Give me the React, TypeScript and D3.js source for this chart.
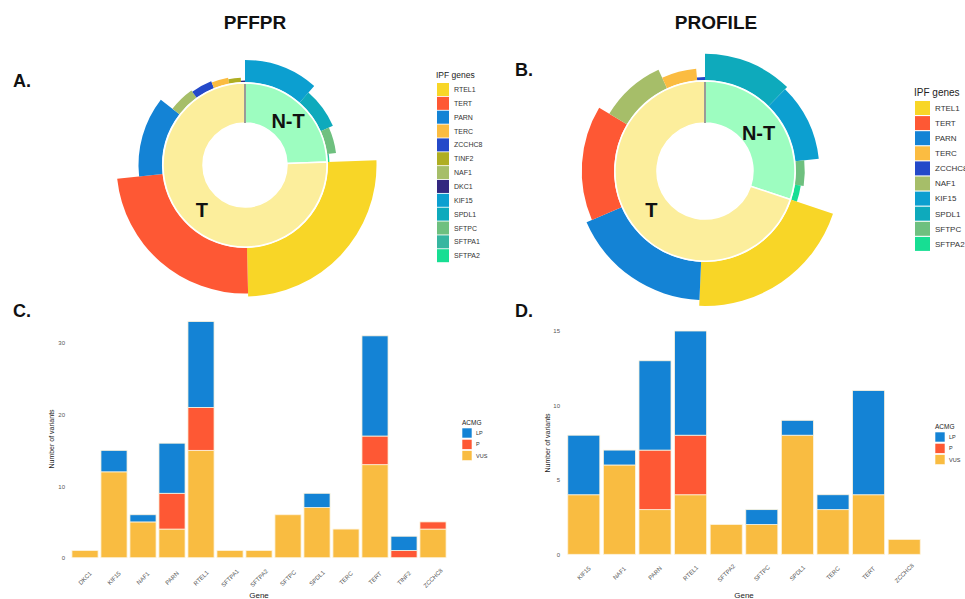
import React, { useRef, useEffect } from 'react';
import { select, scaleBand, scaleLinear, arc, stack, sum, axisLeft, axisBottom } from 'd3';

// gene colour key (shared by both sunbursts)
const geneColors: Record<string, string> = {
    RTEL1: "#F8D627",
    TERT: "#FE5834",
    PARN: "#1483D5",
    TERC: "#FBBC41",
    ZCCHC8: "#2449C9",
    TINF2: "#AFAE22",
    NAF1: "#A6BE69",
    DKC1: "#33287F",
    KIF15: "#0C9FD0",
    SPDL1: "#0EAABC",
    SFTPC: "#6EC07F",
    SFTPA1: "#36B6A0",
    SFTPA2: "#17DE93",
};

const telomereGenes = ["RTEL1", "TERT", "PARN", "TERC", "ZCCHC8", "TINF2", "NAF1", "DKC1"];

// PFFPR cohort (panel A / C)
const pffprGenes = ["DKC1", "KIF15", "NAF1", "PARN", "RTEL1", "SFTPA1", "SFTPA2", "SFTPC", "SPDL1", "TERC", "TERT", "TINF2", "ZCCHC8"];
const pffprVUS = [1, 12, 5, 4, 15, 1, 1, 6, 7, 4, 13, 0, 4];
const pffprP = [0, 0, 0, 5, 6, 0, 0, 0, 0, 0, 4, 1, 1];
const pffprLP = [0, 3, 1, 7, 12, 0, 0, 0, 2, 0, 14, 2, 0];
const pffprLegend = ["RTEL1", "TERT", "PARN", "TERC", "ZCCHC8", "TINF2", "NAF1", "DKC1", "KIF15", "SPDL1", "SFTPC", "SFTPA1", "SFTPA2"];
const pffprTicks = [0, 10, 20, 30];

// PROFILE cohort (panel B / D)
const profileGenes = ["KIF15", "NAF1", "PARN", "RTEL1", "SFTPA2", "SFTPC", "SPDL1", "TERC", "TERT", "ZCCHC8"];
const profileVUS = [4, 6, 3, 4, 2, 2, 8, 3, 4, 1];
const profileP = [0, 0, 4, 4, 0, 0, 0, 0, 0, 0];
const profileLP = [4, 1, 6, 7, 0, 1, 1, 1, 7, 0];
const profileLegend = ["RTEL1", "TERT", "PARN", "TERC", "ZCCHC8", "NAF1", "KIF15", "SPDL1", "SFTPC", "SFTPA2"];
const profileTicks = [0, 5, 10, 15];

const acmgKeys = ["VUS", "P", "LP"];
const acmgLegend = ["LP", "P", "VUS"];
const acmgColors: Record<string, string> = { VUS: "#F9BC41", P: "#FE5834", LP: "#1483D5" };

const font = "'Liberation Sans', Arial, Helvetica, sans-serif";

type Sel = any;

function drawSunburst(svg: Sel, o: {
    genes: string[]; vus: number[]; p: number[]; lp: number[];
    cx: number; cy: number; hole: number; ring: number; px: number; labelR: number;
}) {
    const totals = o.genes.map((gene, i) => ({ gene, n: o.vus[i] + o.p[i] + o.lp[i] }));
    const desc = (a: any, b: any) => b.n - a.n;
    const nt = totals.filter(d => !telomereGenes.includes(d.gene)).sort(desc);
    const t = totals.filter(d => telomereGenes.includes(d.gene)).sort(desc);
    const grand = sum(totals, d => d.n);
    const ntTotal = sum(nt, d => d.n);

    const angle = scaleLinear().domain([0, grand]).range([0, 2 * Math.PI]);
    const thick = scaleLinear().domain([0, 1]).range([0, o.px]);
    const arcGen = arc<any>();

    const g = svg.append("g").attr("transform", `translate(${o.cx},${o.cy})`);

    let acc = 0;
    const outer = [...nt, ...t].map(d => {
        const seg = { ...d, start: acc, end: acc + d.n };
        acc += d.n;
        return seg;
    });

    g.append("g").selectAll("path").data(outer).join("path")
        .attr("d", (d: any) => arcGen({
            innerRadius: o.ring + 1,
            outerRadius: o.ring + 1 + thick(d.n),
            startAngle: angle(d.start),
            endAngle: angle(d.end),
        }))
        .attr("fill", (d: any) => geneColors[d.gene]);

    const groups = [
        { key: "N-T", start: 0, end: ntTotal, fill: "#9DFDC0" },
        { key: "T", start: ntTotal, end: grand, fill: "#FCEE9C" },
    ];

    g.append("g").selectAll("path").data(groups).join("path")
        .attr("d", (d: any) => arcGen({
            innerRadius: o.hole,
            outerRadius: o.ring,
            startAngle: angle(d.start),
            endAngle: angle(d.end),
        }))
        .attr("fill", (d: any) => d.fill)
        .attr("stroke", "#fff")
        .attr("stroke-width", 1.5);

    // thin grey seam at 12 o'clock
    g.append("line")
        .attr("x1", 0).attr("y1", -o.hole)
        .attr("x2", 0).attr("y2", -o.ring + 1)
        .attr("stroke", "#7a7a7a")
        .attr("stroke-width", 1.5);

    g.append("g").selectAll("text").data(groups).join("text")
        .attr("transform", (d: any) => {
            const a = (angle(d.start) + angle(d.end)) / 2;
            return `translate(${Math.sin(a) * o.labelR},${-Math.cos(a) * o.labelR})`;
        })
        .attr("text-anchor", "middle")
        .attr("dy", "0.36em")
        .style("font-family", font)
        .style("font-weight", "bold")
        .style("font-size", "20px")
        .style("fill", "#111")
        .text((d: any) => d.key);
}

function drawGeneLegend(svg: Sel, o: {
    items: string[]; x: number; y: number; sw: number; sh: number; step: number;
    titleSize: number; textSize: number;
}) {
    const g = svg.append("g");
    g.append("text")
        .attr("x", o.x - 1).attr("y", o.y - 5)
        .style("font-family", font).style("font-size", `${o.titleSize}px`).style("fill", "#222")
        .text("IPF genes");
    const rows = g.selectAll("g.row").data(o.items).join("g")
        .attr("class", "row")
        .attr("transform", (_d: string, i: number) => `translate(${o.x},${o.y + i * o.step})`);
    rows.append("rect")
        .attr("width", o.sw).attr("height", o.sh)
        .attr("fill", (d: string) => geneColors[d]);
    rows.append("text")
        .attr("x", o.sw + 5).attr("y", o.sh / 2).attr("dy", "0.36em")
        .style("font-family", font).style("font-size", `${o.textSize}px`).style("fill", "#333")
        .text((d: string) => d);
}

function drawBars(svg: Sel, o: {
    genes: string[]; vus: number[]; p: number[]; lp: number[];
    x0: number; x1: number; y0: number; yTop: number; topVal: number; ticks: number[];
    labelY: number; tickX: number; titleX: number; titleY: number;
    legendX: number; legendY: number;
}) {
    const rows = o.genes.map((gene, i) => ({ gene, VUS: o.vus[i], P: o.p[i], LP: o.lp[i] }));
    const x = scaleBand().domain(o.genes).range([o.x0, o.x1]).paddingInner(0.1).paddingOuter(0.05);
    const y = scaleLinear().domain([0, o.topVal]).range([o.y0, o.yTop]);
    const series = stack<any>().keys(acmgKeys)(rows);

    const g = svg.append("g");

    g.append("g").selectAll("g").data(series).join("g")
        .attr("fill", (s: any) => acmgColors[s.key])
        .selectAll("rect")
        .data((s: any) => s.filter((d: any) => d[1] > d[0]))
        .join("rect")
        .attr("x", (d: any) => x(d.data.gene))
        .attr("width", x.bandwidth())
        .attr("y", (d: any) => y(d[1]))
        .attr("height", (d: any) => y(d[0]) - y(d[1]))
        .attr("stroke", "#fdf3dc")
        .attr("stroke-width", 0.8);

    g.append("g")
        .attr("transform", `translate(${o.tickX},0)`)
        .call(axisLeft(y).tickValues(o.ticks).tickSize(0).tickPadding(0))
        .call((a: Sel) => a.select(".domain").remove())
        .call((a: Sel) => a.selectAll("text")
            .style("font-family", font).style("font-size", "6px").style("fill", "#555"));

    g.append("g")
        .attr("transform", `translate(0,${o.labelY})`)
        .call(axisBottom(x).tickSize(0).tickPadding(0))
        .call((a: Sel) => a.select(".domain").remove())
        .call((a: Sel) => a.selectAll("text")
            .attr("y", 0).attr("dy", "0.36em")
            .attr("transform", "rotate(-45)")
            .attr("text-anchor", "middle")
            .style("font-family", font).style("font-size", "6px").style("fill", "#555"));

    g.append("text")
        .attr("transform", `translate(${o.titleX},${o.titleY}) rotate(-90)`)
        .attr("text-anchor", "middle")
        .style("font-family", font).style("font-size", "7px").style("fill", "#222")
        .text("Number of variants");

    g.append("text")
        .attr("x", (o.x0 + o.x1) / 2).attr("y", 598)
        .attr("text-anchor", "middle")
        .style("font-family", font).style("font-size", "8px").style("fill", "#222")
        .text("Gene");

    const lg = g.append("g").attr("transform", `translate(${o.legendX},${o.legendY})`);
    lg.append("text")
        .attr("x", 0).attr("y", -3)
        .style("font-family", font).style("font-size", "6.5px").style("fill", "#222")
        .text("ACMG");
    const items = lg.selectAll("g.item").data(acmgLegend).join("g")
        .attr("class", "item")
        .attr("transform", (_d: string, i: number) => `translate(0,${i * 11.3})`);
    items.append("rect").attr("width", 10).attr("height", 10)
        .attr("fill", (d: string) => acmgColors[d])
        .attr("stroke", "#fff").attr("stroke-width", 0.6);
    items.append("text")
        .attr("x", 14).attr("y", 5).attr("dy", "0.36em")
        .style("font-family", font).style("font-size", "5.5px").style("fill", "#333")
        .text((d: string) => d);
}

function heading(svg: Sel, x: number, y: number, txt: string, size: number, anchor = "middle") {
    svg.append("text")
        .attr("x", x).attr("y", y)
        .attr("text-anchor", anchor)
        .style("font-family", font)
        .style("font-weight", "bold")
        .style("font-size", `${size}px`)
        .style("fill", "#111")
        .text(txt);
}

export default function App() {
    const ref = useRef<SVGSVGElement | null>(null);

    useEffect(() => {
        if (!ref.current) return;
        const svg = select(ref.current);
        svg.selectAll("*").remove();

        heading(svg, 255, 29, "PFFPR", 19);
        heading(svg, 716, 29, "PROFILE", 19);
        heading(svg, 13, 87, "A.", 18, "start");
        heading(svg, 515, 76, "B.", 18, "start");
        heading(svg, 13, 317, "C.", 18, "start");
        heading(svg, 515, 317, "D.", 18, "start");

        drawSunburst(svg, {
            genes: pffprGenes, vus: pffprVUS, p: pffprP, lp: pffprLP,
            cx: 245, cy: 165, hole: 42, ring: 82, px: 1.47, labelR: 62,
        });
        drawSunburst(svg, {
            genes: profileGenes, vus: profileVUS, p: profileP, lp: profileLP,
            cx: 705, cy: 171, hole: 48, ring: 90, px: 2.93, labelR: 66,
        });

        drawGeneLegend(svg, { items: pffprLegend, x: 437, y: 83, sw: 12, sh: 13, step: 13.85, titleSize: 8.5, textSize: 7 });
        drawGeneLegend(svg, { items: profileLegend, x: 915, y: 101, sw: 15, sh: 14, step: 15.1, titleSize: 10, textSize: 8 });

        drawBars(svg, {
            genes: pffprGenes, vus: pffprVUS, p: pffprP, lp: pffprLP,
            x0: 70.5, x1: 447.5, y0: 557.7, yTop: 343, topVal: 30, ticks: pffprTicks,
            labelY: 578, tickX: 65, titleX: 54, titleY: 439,
            legendX: 462, legendY: 428,
        });
        drawBars(svg, {
            genes: profileGenes, vus: profileVUS, p: profileP, lp: profileLP,
            x0: 566, x1: 922, y0: 554.3, yTop: 331, topVal: 15, ticks: profileTicks,
            labelY: 573, tickX: 560, titleX: 550, titleY: 443,
            legendX: 935, legendY: 432,
        });
    }, []);

    return (
        <div style={{ position: "absolute", left: 0, top: 0, background: "#fff" }}>
            <svg ref={ref} width={965} height={599} style={{ display: "block" }} />
        </div>
    );
}
